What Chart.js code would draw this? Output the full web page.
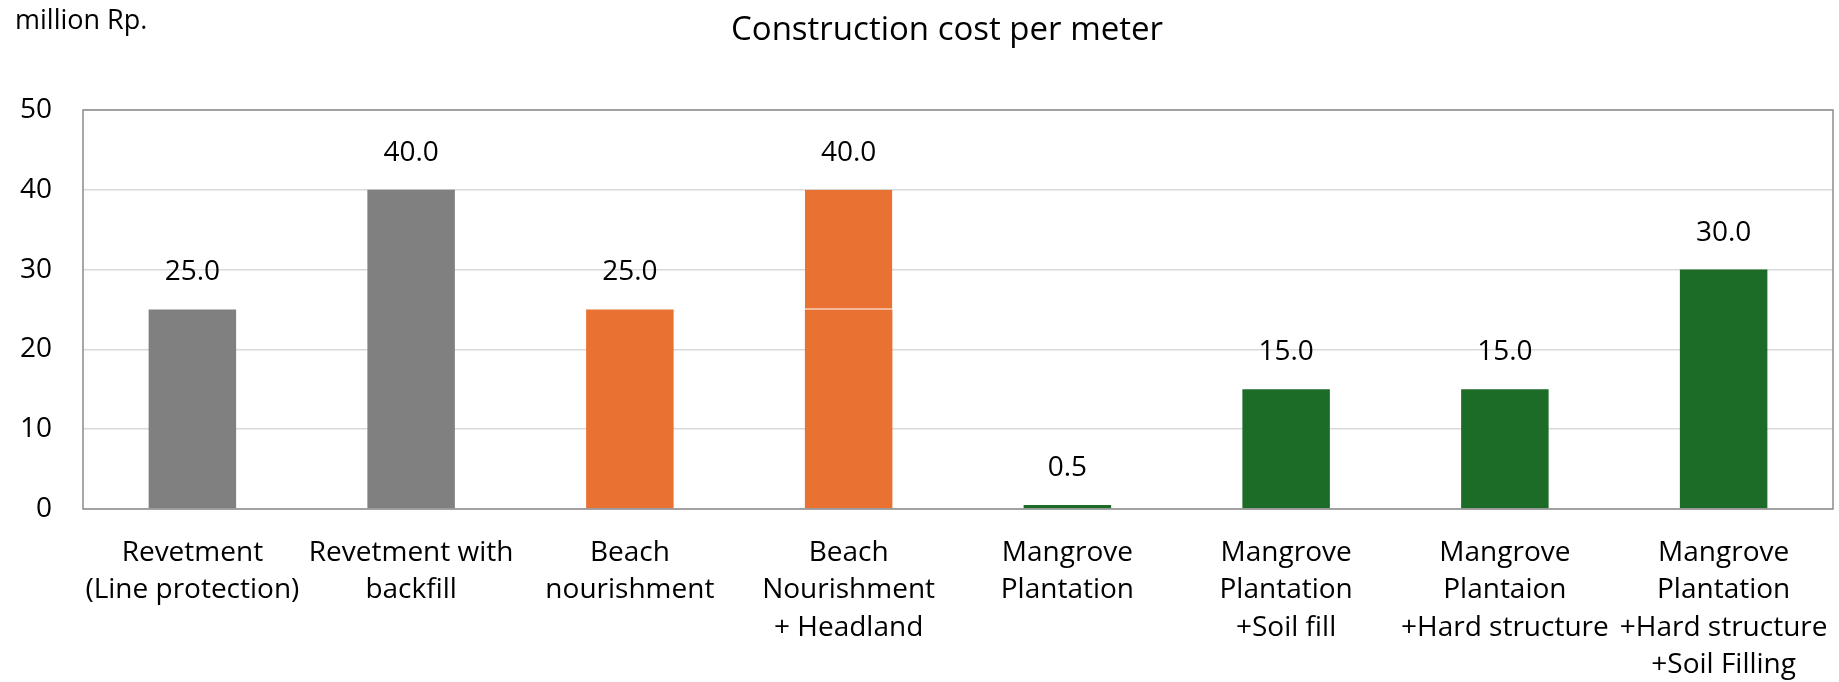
<!DOCTYPE html>
<html>
<head>
<meta charset="utf-8">
<script src="https://cdn.jsdelivr.net/npm/chart.js@4"></script>
<style>
  html, body { margin: 0; padding: 0; background: #fff; }
  #wrap { width: 1839px; height: 682px; }
</style>
</head>
<body>
<div id="wrap"><canvas id="chart" width="1839" height="682"></canvas></div>
<script>
const categories = [
  ["Revetment", "(Line protection)"],
  ["Revetment with", "backfill"],
  ["Beach", "nourishment"],
  ["Beach", "Nourishment", "+ Headland"],
  ["Mangrove", "Plantation"],
  ["Mangrove", "Plantation", "+Soil fill"],
  ["Mangrove", "Plantaion", "+Hard structure"],
  ["Mangrove", "Plantation", "+Hard structure", "+Soil Filling"]
];
// cost in million Rp. per meter
const baseCost = [25, 40, 25, 25, 0.5, 15, 15, 30];
const headlandCost = [0, 0, 0, 15, 0, 0, 0, 0]; // extra part on top of beach nourishment
const yTicks = [0, 10, 20, 30, 40, 50];

const GRAY = "#808080", ORANGE = "#E97132", GREEN = "#1C6B27";
const barColors = [GRAY, GRAY, ORANGE, ORANGE, GREEN, GREEN, GREEN, GREEN];
const FONT = "'Open Sans', 'Noto Sans', sans-serif";

// frame around the plot area
const frame = {
  id: "frame",
  afterDatasetsDraw(chart) {
    const a = chart.chartArea, ctx = chart.ctx;
    ctx.save();
    ctx.strokeStyle = "#8c8c8c";
    ctx.lineWidth = 1.5;
    ctx.strokeRect(a.left, a.top, a.right - a.left, a.bottom - a.top);
    ctx.restore();
  }
};

// value labels above each (stacked) bar, unit text and title
const texts = {
  id: "texts",
  afterDraw(chart) {
    const ctx = chart.ctx;
    const y = chart.scales.y;
    const meta = chart.getDatasetMeta(0);
    ctx.save();
    ctx.fillStyle = "#000";
    ctx.font = "28px " + FONT;
    ctx.textAlign = "center";
    ctx.textBaseline = "middle";
    for (let i = 0; i < baseCost.length; i++) {
      const total = baseCost[i] + headlandCost[i];
      ctx.fillText(total.toFixed(1), meta.data[i].x, y.getPixelForValue(total) - 37);
    }
    ctx.font = "33px " + FONT;
    ctx.fillText("Construction cost per meter", 947, 31);
    ctx.textAlign = "left";
    ctx.font = "27px " + FONT;
    ctx.fillText("million Rp.", 15, 21);
    ctx.restore();
  }
};

new Chart(document.getElementById("chart"), {
  type: "bar",
  data: {
    labels: categories,
    datasets: [
      {
        label: "Cost",
        data: baseCost,
        backgroundColor: barColors,
        borderWidth: 0
      },
      {
        label: "Headland",
        data: headlandCost,
        backgroundColor: ORANGE,
        borderColor: "rgba(255,255,255,0.35)",
        borderWidth: { bottom: 1, top: 0, left: 0, right: 0 },
        borderSkipped: false
      }
    ]
  },
  options: {
    responsive: false,
    animation: false,
    barPercentage: 0.4,
    categoryPercentage: 1,
    layout: { padding: { top: 110, right: 6, left: 0, bottom: 0 } },
    plugins: {
      legend: { display: false },
      tooltip: { enabled: false },
      title: { display: false }
    },
    scales: {
      x: {
        stacked: true,
        grid: { display: false, drawTicks: false },
        border: { display: false },
        ticks: {
          color: "#000",
          font: { family: FONT, size: 28, lineHeight: 1.34 },
          padding: 25,
          maxRotation: 0,
          autoSkip: false
        },
        afterFit(scale) {
          scale.height = 173;
          scale.paddingLeft = 0;  // labels may overhang, keep plot width fixed
          scale.paddingRight = 0;
        }
      },
      y: {
        stacked: true,
        min: 0,
        max: 50,
        afterBuildTicks(scale) { scale.ticks = yTicks.map(v => ({ value: v })); },
        grid: { color: "#d9d9d9", lineWidth: 1.5, drawTicks: false },
        border: { display: false },
        ticks: {
          color: "#000",
          font: { family: FONT, size: 28 },
          padding: 31
        },
        afterFit(scale) { scale.width = 83; }
      }
    }
  },
  plugins: [frame, texts]
});
</script>
</body>
</html>
